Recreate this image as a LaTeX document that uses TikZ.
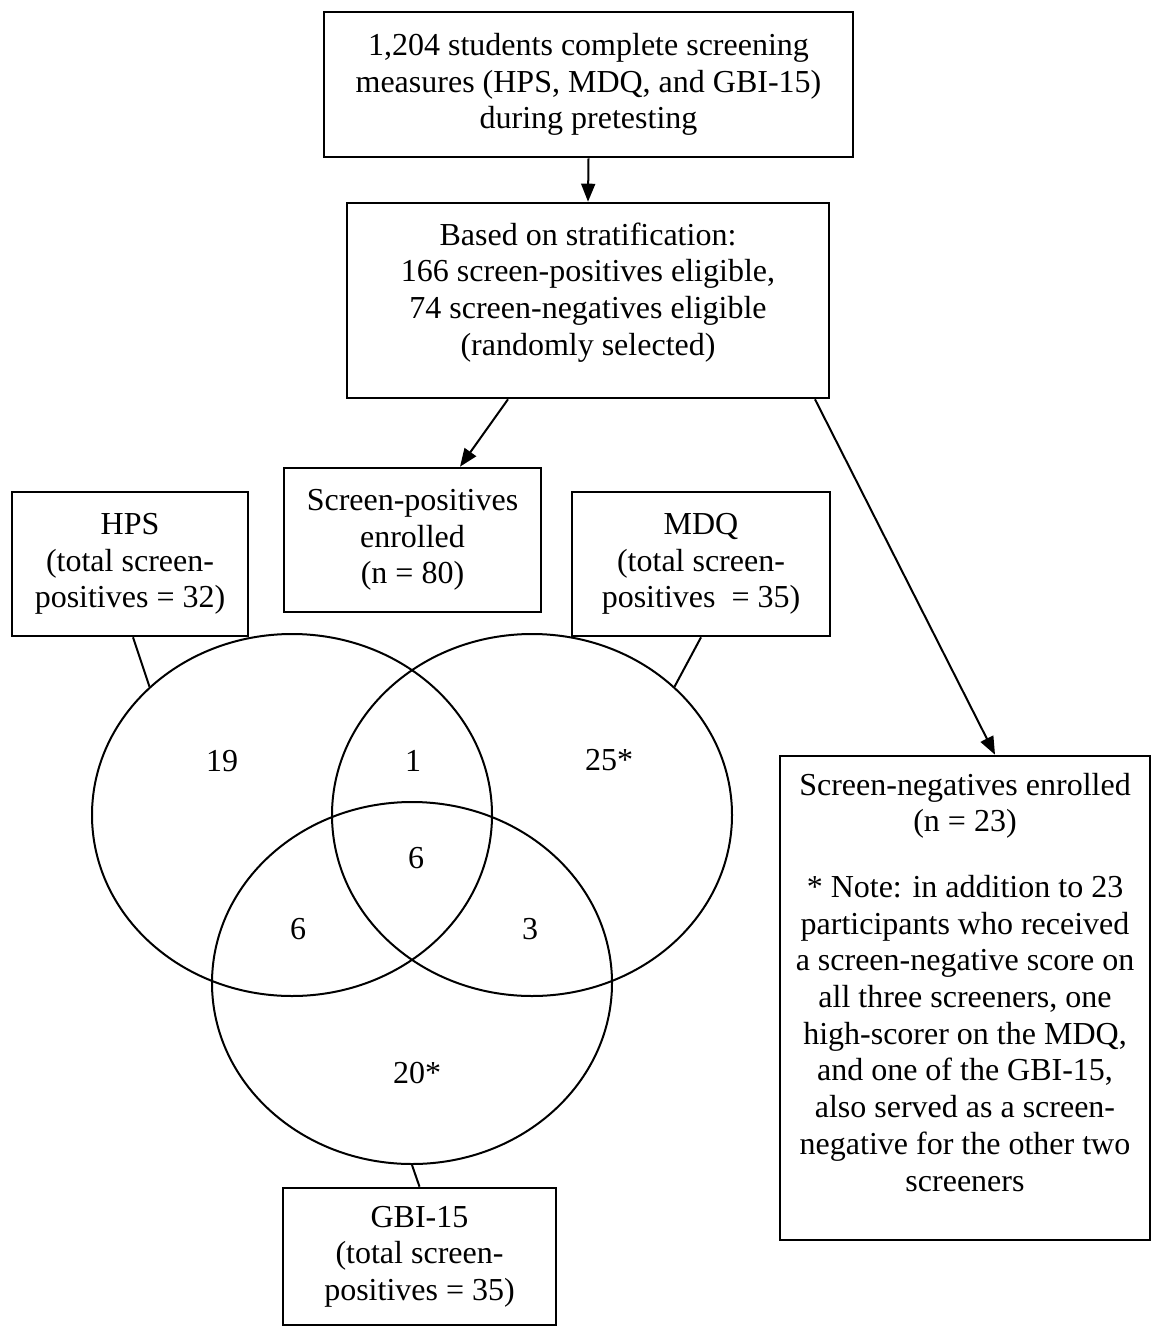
\documentclass[tikz,border=0pt]{standalone}
\usepackage{fontspec}
\setmainfont{Liberation Serif}
\usetikzlibrary{arrows.meta,shapes.geometric}
\newcommand{\topalign}[3]{\parbox[c][#2][t]{#1}{\centering #3}}

\begin{document}
\begin{tikzpicture}[x=0.5pt,y=-0.5pt,
	box/.style={draw,line width=1.3pt,align=center,inner sep=0pt,font=\fontsize{16}{18.35}\selectfont},
	set/.style={draw,ellipse,line width=1pt,minimum width=200pt,minimum height=181pt,inner sep=0pt},
	num/.style={font=\fontsize{16}{18}\selectfont,inner sep=0pt},
	arr/.style={-{Triangle[length=9pt,width=7pt]},line width=1pt},
	link/.style={line width=1pt}]
	\useasboundingbox (0,0) rectangle (1152,1327);
	% flow boxes
	\node[box,minimum width=264.5pt,minimum height=72.5pt] (screen) at (588.5,84.5)
		{1,204 students complete screening\\ measures (HPS, MDQ, and GBI-15)\\ during pretesting};
	\node[box] (strat) at (588,300.5)
		{\topalign{241pt}{97.5pt}{\rule{0pt}{21pt}Based on stratification:\\ 166 screen-positives eligible,\\ 74 screen-negatives eligible\\ (randomly selected)}};
	\node[box,minimum width=128.5pt,minimum height=72pt] (pos) at (412.5,540)
		{Screen-positives\\ enrolled\\ (n = 80)};
	\node[box] (neg) at (965,998)
		{\topalign{185pt}{242pt}{\rule{0pt}{19.5pt}Screen-negatives enrolled\\ (n = 23)\\[14.5pt]
		* Note: in addition to 23\\ participants who received\\ a screen-negative score on\\ all three screeners, one\\ high-scorer on the MDQ,\\ and one of the GBI-15,\\ also served as a screen-\\ negative for the other two\\ screeners}};
	% screener boxes
	\node[box,minimum width=118pt,minimum height=72pt] (hps) at (130,564)
		{HPS\\ (total screen-\\ positives = 32)};
	\node[box,minimum width=129pt,minimum height=72pt] (mdq) at (701,564)
		{MDQ\\ (total screen-\\ positives~ = 35)};
	\node[box,minimum width=136.5pt,minimum height=68.5pt] (gbi) at (419.5,1256.5)
		{GBI-15\\ (total screen-\\ positives = 35)};
	% venn
	\node[set] (hpsset) at (292,815) {};
	\node[set] (mdqset) at (532,815) {};
	\node[set] (gbiset) at (412,983) {};
	\node[num] (n19) at (222,761) {19};
	\node[num] (n1) at (413,761) {1};
	\node[num] (n25) at (609,760) {25*};
	\node[num] (n6c) at (416,858) {6};
	\node[num] (n6l) at (298,929) {6};
	\node[num] (n3) at (530,929) {3};
	\node[num] (n20) at (417,1073) {20*};
	% connectors
	\draw[arr] (screen.south) -- (strat.north);
	\draw[arr] ([xshift=-40pt]strat.south) -- ([xshift=23.75pt]pos.north);
	\draw[arr] ([xshift=113.5pt]strat.south) -- ([xshift=15pt]neg.north);
	\draw[link] ([xshift=1.5pt]hps.south) -- (hpsset.138);
	\draw[link] (mdq.south) -- (mdqset.42);
	\draw[link] (gbiset.south) -- (gbi.north);
\end{tikzpicture}
\end{document}
